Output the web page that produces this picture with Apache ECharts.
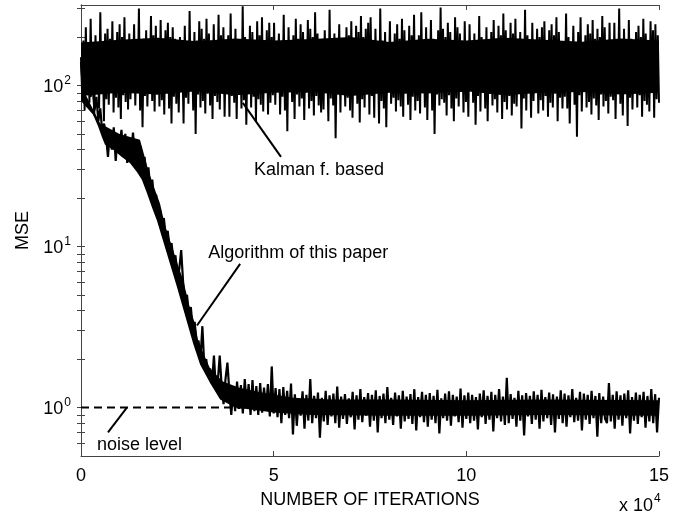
<!DOCTYPE html>
<html>
<head>
<meta charset="utf-8">
<script src="https://cdn.jsdelivr.net/npm/echarts@6/dist/echarts.min.js"></script>
<style>
  html, body { margin: 0; padding: 0; background: #fff; }
  #chart { width: 684px; height: 514px; }
</style>
</head>
<body>
<div id="chart"></div>
<script>
// x in units of 10^4 iterations
const xMax = 15;
const xTicks = [0, 5, 10, 15];
const yLabelTicks = [1, 10, 100];
const yMinorTicks = [0.6, 0.7, 0.8, 0.9, 1, 2, 3, 4, 5, 6, 7, 8, 9, 10, 20, 30, 40, 50, 60, 70, 80, 90, 100, 200, 300];

// MSE of the Kalman filter based method (evenly spaced over 0..15 x 10^4)
const kalmanMse = [
  150, 85, 190, 70, 230, 95, 160, 78, 260, 88, 175, 65, 205, 110, 140, 72, 285, 90, 170, 60,
  210, 82, 225, 76, 195, 91, 250, 68, 180, 84, 215, 73, 240, 62, 200, 87, 265, 79, 185, 71,
  210, 82, 155, 100, 240, 75, 185, 92, 300, 70, 165, 55, 195, 86, 220, 74, 150, 105, 270, 80,
  205, 69, 235, 88, 190, 74, 255, 81, 175, 66, 220, 93, 245, 72, 200, 58, 230, 85, 195, 77,
  180, 68, 200, 96, 145, 58, 235, 84, 175, 77, 290, 92, 160, 70, 215, 50, 190, 88, 250, 73,
  225, 80, 195, 67, 260, 89, 210, 75, 185, 62, 240, 86, 170, 79, 275, 71, 205, 90, 230, 64,
  165, 99, 205, 64, 280, 86, 150, 78, 225, 62, 185, 94, 170, 72, 310, 81, 200, 57, 160, 90,
  235, 73, 215, 85, 190, 60, 250, 82, 205, 76, 265, 69, 180, 91, 220, 66, 245, 78, 200, 87,
  245, 76, 180, 104, 210, 66, 155, 85, 275, 70, 190, 52, 230, 93, 165, 79, 205, 62, 260, 88,
  195, 74, 240, 83, 215, 61, 185, 90, 255, 72, 225, 80, 200, 65, 285, 86, 210, 75, 180, 68,
  175, 71, 220, 97, 150, 60, 295, 83, 185, 75, 210, 47, 170, 91, 240, 68, 195, 102, 155, 74,
  230, 84, 205, 70, 250, 63, 190, 88, 235, 77, 215, 59, 270, 82, 200, 73, 225, 90, 245, 66,
  265, 86, 180, 63, 225, 95, 160, 58, 300, 80, 190, 72, 215, 55, 175, 99, 250, 77, 145, 84,
  210, 69, 240, 81, 195, 74, 260, 64, 220, 89, 185, 76, 235, 61, 205, 85, 275, 70, 190, 80,
  205, 67, 285, 90, 165, 73, 230, 61, 180, 96, 255, 70, 195, 50, 160, 88, 220, 75, 305, 82,
  225, 78, 200, 65, 245, 87, 215, 72, 190, 60, 265, 83, 230, 74, 210, 91, 180, 68, 250, 79,
  170, 64, 240, 93, 185, 78, 210, 57, 150, 86, 270, 69, 200, 100, 175, 72, 230, 60, 190, 89,
  215, 75, 255, 82, 195, 68, 235, 88, 205, 62, 280, 79, 220, 71, 185, 86, 245, 65, 210, 77,
  260, 74, 165, 95, 215, 54, 180, 83, 295, 70, 205, 90, 155, 63, 245, 80, 190, 98, 225, 67,
  200, 81, 230, 70, 250, 86, 190, 64, 220, 78, 240, 73, 205, 89, 265, 60, 215, 84, 185, 72,
  170, 85, 280, 72, 200, 58, 160, 92, 235, 76, 185, 48, 215, 87, 265, 69, 175, 96, 205, 73,
  240, 79, 210, 66, 255, 83, 195, 75, 225, 61, 200, 88, 270, 74, 230, 80, 190, 67, 245, 85,
  150, 81, 245, 62, 190, 94, 300, 77, 170, 65, 225, 89, 180, 56, 255, 84, 195, 71, 160, 100,
  215, 73, 235, 87, 200, 64, 260, 80, 210, 76, 185, 69, 250, 90, 220, 63, 240, 82, 205, 78
];
// dense core of the Kalman trace (where samples overlap into a solid band)
const kalmanCoreX = [0, 1, 2, 3, 4, 5, 6, 7, 8, 9, 10, 11, 12, 13, 14, 15];
const kalmanCoreLow = [86, 90, 88, 92, 87, 90, 91, 86, 90, 89, 92, 87, 90, 91, 88, 90];
const kalmanCoreHigh = [185, 192, 198, 188, 196, 190, 194, 200, 186, 195, 190, 198, 192, 187, 196, 190];

// MSE of the proposed algorithm (evenly spaced over 0..15 x 10^4)
const algoMse = [
  140, 95, 160, 110, 120, 85,
  100, 70, 85, 60, 72, 52, 58,
  48, 36, 52, 40, 55, 34, 47, 42, 53, 37, 50, 33, 45, 39, 51, 35, 46, 38,
  42, 30, 36, 27, 31, 22, 26, 19, 21, 16,
  17, 13.5, 15, 11.5, 12.5, 9.8, 10.5, 8.2, 8.8, 6.8,
  7.2, 9.5, 6.0, 4.6, 5.0, 3.8, 4.2, 3.1, 3.4, 2.5,
  2.6, 2.0, 3.2, 1.8, 2.0, 1.55, 1.75, 1.4, 2.1, 1.3,
  1.45, 2.1, 1.35, 1.05, 1.5, 1.9, 1.25, 0.9, 1.3, 0.95,
  1.45, 0.98, 1.38, 0.92, 1.5, 1.0, 1.4, 0.9, 1.48, 0.95,
  1.36, 0.9, 1.42, 0.93, 1.33, 0.96, 1.4, 0.88, 1.8, 0.92,
  1.32, 0.87, 1.3, 0.8, 1.34, 0.9, 1.27, 0.86, 1.41, 0.68,
  1.21, 0.77, 1.13, 0.89, 1.26, 0.74, 1.2, 0.83, 1.5, 0.8,
  1.18, 0.86, 1.24, 0.65, 1.15, 0.82, 1.27, 0.78, 1.19, 0.88,
  1.22, 0.8, 1.35, 0.75, 1.17, 0.85, 1.21, 0.79, 1.14, 0.87,
  1.25, 0.73, 1.19, 0.84, 1.3, 0.81, 1.16, 0.89, 1.23, 0.76,
  1.2, 0.83, 1.28, 0.7, 1.18, 0.86, 1.22, 0.8, 1.34, 0.84,
  1.15, 0.78, 1.24, 0.88, 1.19, 0.74, 1.27, 0.82, 1.17, 0.85,
  1.21, 0.79, 1.3, 0.72, 1.16, 0.87, 1.25, 0.81, 1.2, 0.76,
  1.23, 0.84, 1.18, 0.8, 1.29, 0.69, 1.14, 0.86, 1.22, 0.83,
  1.26, 0.77, 1.2, 0.88, 1.17, 0.81, 1.31, 0.75, 1.19, 0.85,
  1.24, 0.8, 1.2, 0.83, 1.16, 0.73, 1.22, 0.87, 1.28, 0.79,
  1.18, 0.84, 1.25, 0.71, 1.2, 0.86, 1.3, 0.82, 1.17, 0.78,
  1.53, 0.8, 1.21, 0.85, 1.15, 0.76, 1.27, 0.83, 1.19, 0.67,
  1.23, 0.88, 1.18, 0.79, 1.26, 0.84, 1.2, 0.74, 1.29, 0.82,
  1.16, 0.86, 1.24, 0.78, 1.21, 0.7, 1.17, 0.85, 1.28, 0.8,
  1.22, 0.76, 1.19, 0.87, 1.3, 0.81, 1.15, 0.83, 1.25, 0.72,
  1.22, 0.84, 1.2, 0.79, 1.27, 0.86, 1.18, 0.66, 1.23, 0.8,
  1.17, 0.85, 0.8, 1.42, 0.82, 1.2, 0.74, 1.26, 0.84, 1.19,
  0.77, 1.22, 0.86, 1.28, 0.69, 1.16, 0.83, 1.24, 0.79, 1.2,
  0.87, 1.25, 0.75, 1.18, 0.82, 1.3, 0.8, 1.21, 0.7, 1.15
];
// dense core of the algorithm trace
const algoCoreUpX = [0, 0.5, 1.0, 1.53, 1.6, 1.71, 1.85, 2.05, 2.18, 2.35, 2.49, 2.65, 2.83, 2.96, 3.04, 3.22, 3.35, 3.68, 4.13, 4.83, 5.5, 6.5, 8, 10, 12, 15];
const algoCoreUp = [100, 58, 50, 46, 40, 32, 25, 18.5, 13.5, 10.2, 8.0, 6.2, 4.1, 3.3, 2.6, 2.05, 1.75, 1.45, 1.32, 1.22, 1.15, 1.12, 1.12, 1.11, 1.12, 1.11];
const algoCoreLowX = [0, 0.31, 0.44, 0.54, 0.62, 0.83, 1.06, 1.27, 1.45, 1.58, 1.71, 1.84, 1.97, 2.23, 2.49, 2.75, 2.91, 3.09, 3.35, 3.61, 4.0, 5, 6, 8, 10, 12, 15];
const algoCoreLow = [80, 66, 56, 48, 43, 40, 36, 33, 29, 26, 21.5, 17.5, 14.5, 9.0, 5.6, 3.4, 2.5, 1.85, 1.42, 1.12, 1.0, 0.93, 0.9, 0.89, 0.89, 0.9, 0.89];

const noiseLevel = 1;

// annotation pointers [from, to] in data coords, and label anchors
const pointers = [
  [[4.2, 78], [5.19, 36]],
  [[3.01, 3.23], [4.13, 7.8]],
  [[0.70, 0.70], [1.19, 1.0]]
];
const notes = [
  { text: 'Kalman f. based', at: [4.49, 30] },
  { text: 'Algorithm of this paper', at: [3.3, 9.1] },
  { text: 'noise level', at: [0.415, 0.585] }
];

function toXY(vals) {
  const step = xMax / (vals.length - 1);
  return vals.map((v, i) => [i * step, v]);
}

// filled band between an upper and a lower boundary, drawn through the axes
function band(upX, up, lowX, low, z) {
  return {
    type: 'custom',
    coordinateSystem: 'cartesian2d',
    silent: true,
    z: z,
    data: [[0, 1]],
    renderItem: function (params, api) {
      const pts = [];
      for (let i = 0; i < upX.length; i++) pts.push(api.coord([upX[i], up[i]]));
      for (let i = lowX.length - 1; i >= 0; i--) pts.push(api.coord([lowX[i], low[i]]));
      return { type: 'polygon', shape: { points: pts }, style: { fill: '#000' } };
    }
  };
}

const FONT = 'Liberation Sans, Arial, Helvetica, sans-serif';
const axisColor = '#444';

const chart = echarts.init(document.getElementById('chart'));

const yAxisBase = {
  type: 'log',
  logBase: 10,
  min: 0.5,
  max: 316,
  axisLine: { show: true, lineStyle: { color: axisColor, width: 1 } },
  axisTick: { show: true, inside: true, length: 4, customValues: yMinorTicks, lineStyle: { color: axisColor } },
  splitLine: { show: false },
  minorTick: { show: false }
};

const option = {
  animation: false,
  backgroundColor: '#fff',
  grid: { left: 81, right: 25, top: 5, bottom: 56 },
  xAxis: [{
    type: 'value',
    min: 0,
    max: xMax,
    interval: 5,
    name: 'NUMBER OF ITERATIONS',
    nameLocation: 'middle',
    nameGap: 35,
    nameTextStyle: { fontFamily: FONT, fontSize: 18, color: '#000' },
    axisLine: { show: true, lineStyle: { color: axisColor } },
    axisTick: { show: true, inside: true, length: 5, lineStyle: { color: axisColor } },
    axisLabel: { fontFamily: FONT, fontSize: 18, color: '#000', margin: 11, customValues: xTicks },
    splitLine: { show: false }
  }, {
    type: 'value',
    position: 'top',
    min: 0,
    max: xMax,
    interval: 5,
    axisLine: { show: true, lineStyle: { color: axisColor } },
    axisTick: { show: true, inside: true, length: 5, lineStyle: { color: axisColor } },
    axisLabel: { show: false },
    splitLine: { show: false }
  }],
  yAxis: [Object.assign({}, yAxisBase, {
    position: 'left',
    name: 'MSE',
    nameLocation: 'middle',
    nameGap: 29,
    nameRotate: 90,
    nameTextStyle: { fontFamily: FONT, fontSize: 18, color: '#000' },
    axisLabel: {
      customValues: yLabelTicks,
      margin: 10,
      formatter: v => '{b|10}{s|' + Math.round(Math.log10(v)) + '}',
      rich: {
        b: { fontFamily: FONT, fontSize: 18, color: '#000', verticalAlign: 'bottom' },
        s: { fontFamily: FONT, fontSize: 12, color: '#000', verticalAlign: 'top', padding: [0, 0, 10, 1] }
      }
    }
  }), Object.assign({}, yAxisBase, {
    position: 'right',
    axisLabel: { show: false }
  })],
  series: [{
    name: 'noise level',
    type: 'line',
    data: [[0, noiseLevel], [xMax, noiseLevel]],
    showSymbol: false,
    z: 1,
    lineStyle: { color: '#000', width: 2, type: [8, 5] },
    markLine: {
      silent: true,
      symbol: ['none', 'none'],
      label: { show: false },
      lineStyle: { color: '#000', width: 2, type: 'solid' },
      data: pointers.map(p => [{ coord: p[0] }, { coord: p[1] }])
    }
  },
  band(kalmanCoreX, kalmanCoreHigh, kalmanCoreX, kalmanCoreLow, 2),
  band(algoCoreUpX, algoCoreUp, algoCoreLowX, algoCoreLow, 2),
  {
    name: 'Kalman f. based',
    type: 'line',
    data: toXY(kalmanMse),
    showSymbol: false,
    z: 3,
    lineStyle: { color: '#000', width: 2 }
  }, {
    name: 'Algorithm of this paper',
    type: 'line',
    data: toXY(algoMse),
    showSymbol: false,
    z: 3,
    lineStyle: { color: '#000', width: 2.2 }
  }]
};

chart.setOption(option);

const graphics = notes.map(n => {
  const p = chart.convertToPixel({ gridIndex: 0 }, n.at);
  return {
    type: 'text',
    x: p[0],
    y: p[1],
    z: 10,
    style: { text: n.text, fontFamily: FONT, fontSize: 18, fill: '#000', verticalAlign: 'middle', align: 'left' }
  };
});
graphics.push({
  type: 'text',
  left: 619,
  top: 493,
  z: 10,
  style: {
    text: '{b|x 10}{s|4}',
    rich: {
      b: { fontFamily: FONT, fontSize: 18, fill: '#000', verticalAlign: 'bottom' },
      s: { fontFamily: FONT, fontSize: 12, fill: '#000', verticalAlign: 'top', padding: [0, 0, 10, 1] }
    }
  }
});
chart.setOption({ graphic: graphics });
</script>
</body>
</html>
